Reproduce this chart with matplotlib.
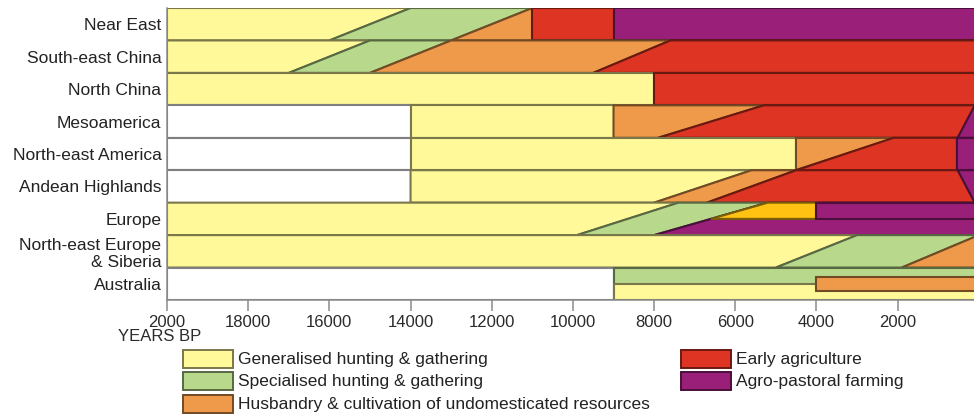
import matplotlib
matplotlib.use("Agg")
import matplotlib.pyplot as plt
from matplotlib.patches import Rectangle
from matplotlib.colors import to_rgb

plt.rcParams['font.family'] = ['Liberation Sans', 'DejaVu Sans']

# ---------------- data ----------------
regions = ["Near East", "South-east China", "North China", "Mesoamerica",
           "North-east America", "Andean Highlands", "Europe",
           "North-east Europe\n& Siberia", "Australia"]

# phase: (key, start year at row bottom, start year at row top)
near_east = [("gen", 20000, 20000), ("spec", 16000, 14000), ("husb", 13000, 11000),
             ("early", 11000, 11000), ("agro", 9000, 9000)]
se_china = [("gen", 20000, 20000), ("spec", 17000, 15000), ("husb", 15000, 13000),
            ("early", 9500, 7600)]
north_china = [("gen", 20000, 20000), ("early", 8000, 8000)]
mesoamerica = [("none", 20000, 20000), ("gen", 14000, 14000), ("husb", 9000, 9000),
               ("early", 7900, 5300), ("agro", 520, 100)]
ne_america = [("none", 20000, 20000), ("gen", 14000, 14000), ("husb", 4500, 4500),
              ("early", 4500, 2100), ("agro", 540, 540)]
andean = [("none", 20000, 20000), ("gen", 14000, 14000), ("husb", 8000, 5600),
          ("early", 6700, 4500), ("agro", 100, 520)]
europe = [("gen", 20000, 20000), ("spec", 9900, 7400), ("agro", 8000, 5200)]
europe_upper = [("gold", 8000, 5200), ("agro", 4000, 4000)]
ne_europe = [("gen", 20000, 20000), ("spec", 5000, 3000), ("husb", 1900, 0)]
australia = [("none", 20000, 20000), ("spec", 9000, 9000)]
australia_lower = [("gen", 9000, 9000)]
australia_mid = [("husb", 4000, 4000)]

# (row index, phases, band top fraction, band bottom fraction) in drawing order
bands = [
    (0, near_east, 0.0, 1.0),
    (1, se_china, 0.0, 1.0),
    (2, north_china, 0.0, 1.0),
    (3, mesoamerica, 0.0, 1.0),
    (4, ne_america, 0.0, 1.0),
    (5, andean, 0.0, 1.0),
    (6, europe, 0.0, 1.0),
    (6, europe_upper, 0.0, 0.5),
    (7, ne_europe, 0.0, 1.0),
    (8, australia, 0.0, 1.0),
    (8, australia_lower, 0.5, 1.0),
    (8, australia_mid, 0.3, 0.72),
]

colors = {"gen": "#FFF99A", "spec": "#B8D98C", "husb": "#EE9A4A",
          "early": "#DD3423", "agro": "#9A1F79", "gold": "#FFC112", "none": "#FFFFFF"}

xticks = [20000, 18000, 16000, 14000, 12000, 10000, 8000, 6000, 4000, 2000]
xtick_labels = ["2000", "18000", "16000", "14000", "12000", "10000", "8000", "6000", "4000", "2000"]

legend_keys = ["gen", "spec", "husb", "early", "agro"]
legend_labels = ["Generalised hunting & gathering", "Specialised hunting & gathering",
                 "Husbandry & cultivation of undomesticated resources",
                 "Early agriculture", "Agro-pastoral farming"]

X_LEFT, X_RIGHT = 20000, 120
# ---------------------------------------


def darker(c, f=0.5):
    r, g, b = to_rgb(c)
    return (r * f, g * f, b * f)


def edge_for(key):
    if key == "none":
        return "#7f7f7f"
    return darker(colors[key], 0.48)


W, H = 974, 419
fig = plt.figure(figsize=(W / 100, H / 100), dpi=100)
ax = fig.add_axes([167 / W, 119 / H, (W - 167) / W, 292 / H])


def yr_at(b, t, frac_from_top):
    # interpolate year along a diagonal boundary
    return t + (b - t) * frac_from_top


for order, (row, phases, f0, f1) in enumerate(bands):
    y_top = row - 0.5 + f0
    y_bot = row - 0.5 + f1
    for k, (key, sb, st) in enumerate(phases):
        if k + 1 < len(phases):
            eb, et = phases[k + 1][1], phases[k + 1][2]
        else:
            eb, et = -2000, -2000
        xs = [yr_at(sb, st, f1), yr_at(sb, st, f0), yr_at(eb, et, f0), yr_at(eb, et, f1)]
        ys = [y_bot, y_top, y_top, y_bot]
        ax.fill(xs, ys, facecolor=colors[key], edgecolor=edge_for(key),
                linewidth=1.5, joinstyle="miter", zorder=2 + order * 0.01)

ax.set_xlim(X_LEFT, X_RIGHT)
ax.set_ylim(len(regions) - 0.5, -0.5)

ax.set_yticks(range(len(regions)))
ax.set_yticklabels(regions, fontsize=12.5, color="#222222")
ax.tick_params(axis="y", length=0, pad=4)

ax.set_xticks(xticks)
ax.set_xticklabels(xtick_labels, fontsize=12, color="#2a2a2a")
ax.tick_params(axis="x", length=8, width=1.1, color="#8a8a8a", pad=3, direction="out")

for s in ["top", "right"]:
    ax.spines[s].set_visible(False)
for s in ["left", "bottom"]:
    ax.spines[s].set_color("#8a8a8a")
    ax.spines[s].set_linewidth(1.1)
    ax.spines[s].set_zorder(5)

fig.text(160 / W, 1 - 336 / H, "YEARS BP", fontsize=12, color="#2a2a2a",
         ha="center", va="center")

# legend (manual layout)
col_x = [183, 681]
row_y = [359, 381, 404]
for i, (key, lab) in enumerate(zip(legend_keys, legend_labels)):
    c = 0 if i < 3 else 1
    r = i if i < 3 else i - 3
    x0 = col_x[c]
    yc = row_y[r]
    fig.patches.append(Rectangle((x0 / W, 1 - (yc + 9) / H), 50 / W, 18 / H,
                                 transform=fig.transFigure, facecolor=colors[key],
                                 edgecolor=edge_for(key), linewidth=1.4))
    fig.text((x0 + 55) / W, 1 - yc / H, lab, fontsize=12.5, color="#222222",
             ha="left", va="center")

fig.savefig("out.png", dpi=100)
